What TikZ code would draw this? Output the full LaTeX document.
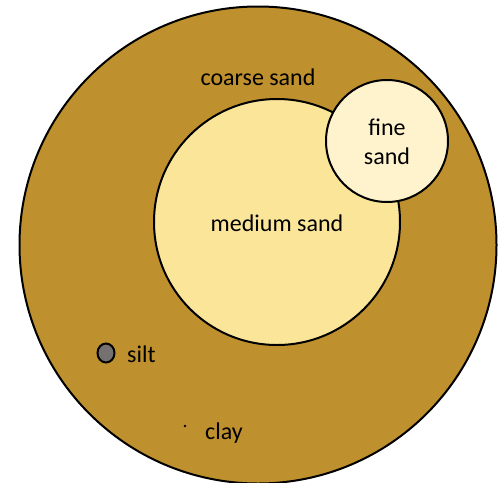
\documentclass[tikz,border=0pt]{standalone}
\usepackage{fontspec}
\setmainfont{Carlito}
\usetikzlibrary{shapes.geometric}
\definecolor{coarse}{RGB}{191,144,46}
\definecolor{medium}{RGB}{251,229,153}
\definecolor{fine}{RGB}{255,243,206}
\definecolor{siltgray}{RGB}{118,113,113}
\begin{document}
\begin{tikzpicture}[x=1pt,y=-1pt,
  grain/.style={draw=black,line width=2pt},
  lbl/.style={font=\fontsize{24}{29}\selectfont,inner sep=0pt}]
\useasboundingbox (0,0) rectangle (498,482);
\begin{scope}
\clip (0,0) rectangle (498,482);
\node[grain,fill=coarse,circle,minimum size=477pt,inner sep=0pt] (coarse) at (258,245) {};
\end{scope}
\node[grain,fill=medium,circle,minimum size=246pt,inner sep=0pt] (medium) at (277,222) {};
\node[grain,fill=fine,circle,minimum size=122pt,inner sep=0pt] (fine) at (387,141) {};
\node[grain,fill=siltgray,ellipse,minimum width=17pt,minimum height=19pt,inner sep=0pt] (silt) at (106,353) {};
\node[fill=black,circle,minimum size=2.6pt,inner sep=0pt] (clay) at (185,426) {};
\node[lbl] (tcoarse) at (258,77) {coarse sand};
\node[lbl] (tmedium) at (277,223) {medium sand};
\node[lbl,align=center] (tfine) at (387,142) {fine\\sand};
\node[lbl,anchor=west] (tsilt) at (127,354) {silt};
\node[lbl,anchor=west] (tclay) at (205,433) {clay};
\end{tikzpicture}
\end{document}
